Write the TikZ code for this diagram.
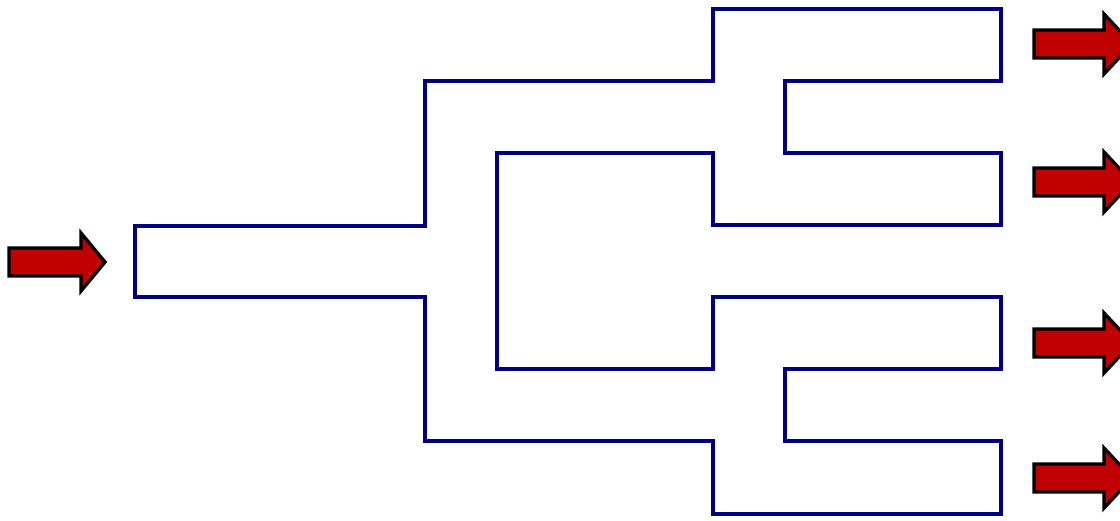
\documentclass[tikz,border=0pt]{standalone}
\begin{document}
\begin{tikzpicture}[x=1pt,y=-1pt,
  pipe/.style={draw={rgb,255:red,0;green,0;blue,128},line width=4.6pt,line join=miter},
  flowarrow/.style={draw=black,fill={rgb,255:red,192;green,0;blue,0},line width=3.4pt,line join=miter}]
\useasboundingbox (0,0) rectangle (1120,520);
\draw[pipe] (135,226) -- (425,226) -- (425,81) -- (713,81) -- (713,9) -- (1001,9) -- (1001,81)
  -- (785,81) -- (785,153) -- (1001,153) -- (1001,225) -- (713,225) -- (713,153) -- (497,153)
  -- (497,369) -- (713,369) -- (713,297) -- (1001,297) -- (1001,369) -- (785,369) -- (785,441)
  -- (1001,441) -- (1001,514) -- (713,514) -- (713,441) -- (425,441) -- (425,297) -- (135,297) -- cycle;
% inlet arrow
\draw[flowarrow] (9,248) -- (81,248) -- (81,233) -- (105,262) -- (81,291) -- (81,276) -- (9,276) -- cycle;
% outlet arrows
\foreach \c in {44,182,343,478}{
  \draw[flowarrow] (1034,\c-14) -- (1104,\c-14) -- (1104,\c-30) -- (1132,\c) -- (1104,\c+30) -- (1104,\c+14) -- (1034,\c+14) -- cycle;
}
\end{tikzpicture}
\end{document}
